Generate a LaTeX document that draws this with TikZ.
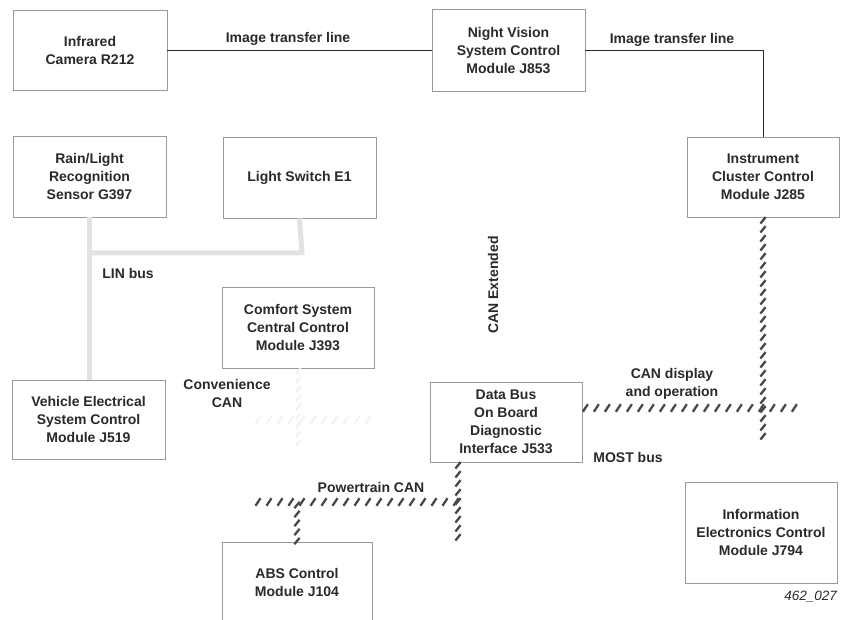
\documentclass[tikz,border=0pt]{standalone}
\usepackage{fontspec}
\setmainfont{Liberation Sans}
\usetikzlibrary{decorations.markings}
\definecolor{txt}{HTML}{2A2A2A}
\definecolor{boxc}{HTML}{9A9A9A}
\definecolor{busc}{HTML}{484848}
\definecolor{linc}{HTML}{E2E2E2}
\definecolor{convc}{HTML}{F3F3F3}
\begin{document}
\begin{tikzpicture}[x=1pt,y=-1pt,
  font=\fontsize{14}{18}\selectfont\bfseries,
  module/.style={draw=boxc, line width=0.7pt, rectangle, align=center, text=txt, inner sep=0pt},
  lbl/.style={text=txt, align=center, inner sep=0pt},
  imgline/.style={draw=black!85, line width=0.9pt},
  linbus/.style={draw=linc, line width=5pt},
  hbus/.style={decoration={markings, mark=between positions 3pt and 1 step 11pt with {\draw[#1, line width=2.3pt] (-2.5pt,-3.8pt) -- (2.5pt,3.8pt);}}, postaction={decorate}},
  hbus/.default=busc,
  vbus/.style={decoration={markings, mark=between positions 3pt and 1 step 9pt with {\draw[#1, line width=2.3pt] (3.2pt,-2.6pt) -- (-3.2pt,2.6pt);}}, postaction={decorate}},
  vbus/.default=busc]
\useasboundingbox (0,0) rectangle (841,620);
\fill[white] (0,0) rectangle (841,620);

% modules
\node[module, minimum width=154pt, minimum height=80pt] (cam) at (90,50.5) {Infrared\\Camera R212};
\node[module, minimum width=153pt, minimum height=82pt] (nv) at (508.5,50.5) {Night Vision\\System Control\\Module J853};
\node[module, minimum width=152pt, minimum height=80pt] (ic) at (763,177) {Instrument\\Cluster Control\\Module J285};
\node[module, minimum width=153pt, minimum height=81pt] (rain) at (89.5,176.5) {Rain/Light\\Recognition\\Sensor G397};
\node[module, minimum width=153pt, minimum height=81pt] (ls) at (299.5,177.5) {Light Switch E1};
\node[module, minimum width=152pt, minimum height=81pt] (comf) at (298,327.5) {Comfort System\\Central Control\\Module J393};
\node[module, minimum width=153pt, minimum height=79pt] (veh) at (88.5,419.5) {Vehicle Electrical\\System Control\\Module J519};
\node[module, minimum width=152pt, minimum height=80pt] (dbus) at (506,422) {Data Bus\\On Board\\Diagnostic\\Interface J533};
\node[module, minimum width=150pt, minimum height=84pt] (abs) at (297,584) {};
\node[lbl] (abst) at (297,582) {ABS Control\\Module J104};
\node[module, minimum width=152pt, minimum height=101pt] (info) at (761,532.5) {Information\\Electronics Control\\Module J794};

% image transfer lines
\draw[imgline] (cam.east) -- (nv.west);
\draw[imgline] (nv.east) -| (ic.north);

% LIN bus (faded)
\coordinate (linJ) at (rain.south |- 0,253);
\coordinate (linR) at (ls.south |- 0,253);
\draw[linbus] (rain.south) -- (veh.north -| rain.south);
\draw[linbus] ([xshift=-2.5pt]linJ) -- ([xshift=2.5pt]linR) -- (ls.south);

% Convenience CAN (very faded)
\coordinate (convB) at (comf.south |- 0,450);
\coordinate (convL) at (255,420);
\coordinate (convR) at (370,420);
\draw[draw=none, vbus=convc] (comf.south) -- (convB);
\draw[draw=none, hbus=convc] (convL) -- (convR);

% CAN display and operation
\coordinate (cdB) at (ic.south |- 0,437);
\coordinate (cdR) at (800,408);
\draw[draw=none, vbus] (ic.south) -- (cdB);
\draw[draw=none, hbus] ([yshift=14pt]dbus.east) -- (cdR);

% Powertrain CAN
\coordinate (ptL) at (255,502);
\coordinate (ptR) at (458,502);
\coordinate (ptB) at (458,540);
\coordinate (ptT) at (dbus.south -| ptR);
\coordinate (ptA) at (abs.north |- ptL);
\draw[draw=none, vbus] (ptT) -- (ptB);
\draw[draw=none, hbus] (ptL) -- (ptR);
\draw[draw=none, vbus] (ptA) -- (abs.north);

% labels
\node[lbl] (l1) at (288,39) {Image transfer line};
\node[lbl] (l2) at (672,40) {Image transfer line};
\node[lbl] (llin) at (128,273) {LIN bus};
\node[lbl] (lconv) at (227,393) {Convenience\\CAN};
\node[lbl] (lcd) at (672,384) {CAN display\\and operation};
\node[lbl] (lmost) at (628,457) {MOST bus};
\node[lbl] (lpt) at (371,487) {Powertrain CAN};
\node[lbl, rotate=90] (lext) at (493,285) {CAN Extended};
\node[lbl, anchor=east, font=\fontsize{13.5}{15}\selectfont\mdseries\itshape] (fig) at (837,597) {462\_027};
\end{tikzpicture}
\end{document}
